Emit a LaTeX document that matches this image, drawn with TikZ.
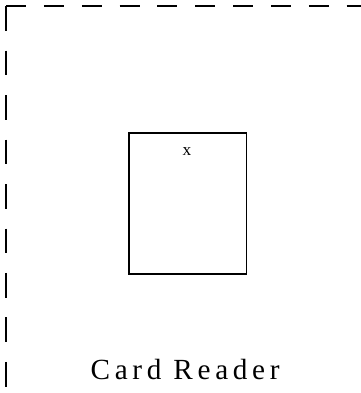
\documentclass[tikz,border=0pt]{standalone}
\usepackage{fontspec}
\setmainfont{Liberation Serif}
\newfontfamily\readerfont[LetterSpace=16]{Liberation Serif}
\usetikzlibrary{positioning}

\begin{document}
\begin{tikzpicture}[
    frameline/.style={draw=black,line width=1.4pt,dash pattern=on 15pt off 13.5pt},
    sideline/.style={draw=black,line width=1.2pt,dash pattern=on 18.5pt off 15pt},
    cardbox/.style={draw=black,line width=1.1pt,minimum width=3.12cm,minimum height=3.73cm,inner sep=0pt},
    cardmark/.style={font=\fontsize{13}{13}\selectfont,inner sep=0pt},
    caption/.style={font=\readerfont\fontsize{22}{22}\selectfont,anchor=base,inner sep=0pt}
  ]
    \useasboundingbox (0,0) rectangle (9.55,10.40);

    % dashed frame, open to the right and below
    \draw[frameline] (0.16,10.24) -- (9.60,10.24);
    \draw[sideline] (0.16,10.24) -- (0.16,-0.05);

    \node[cardbox] (card) at (4.97,5.01) {};
    \node[cardmark] (cross) at (4.95,6.38) {x};

    \node[caption] (reader) at (4.90,0.37) {Card Reader};
  \end{tikzpicture}
\end{document}
